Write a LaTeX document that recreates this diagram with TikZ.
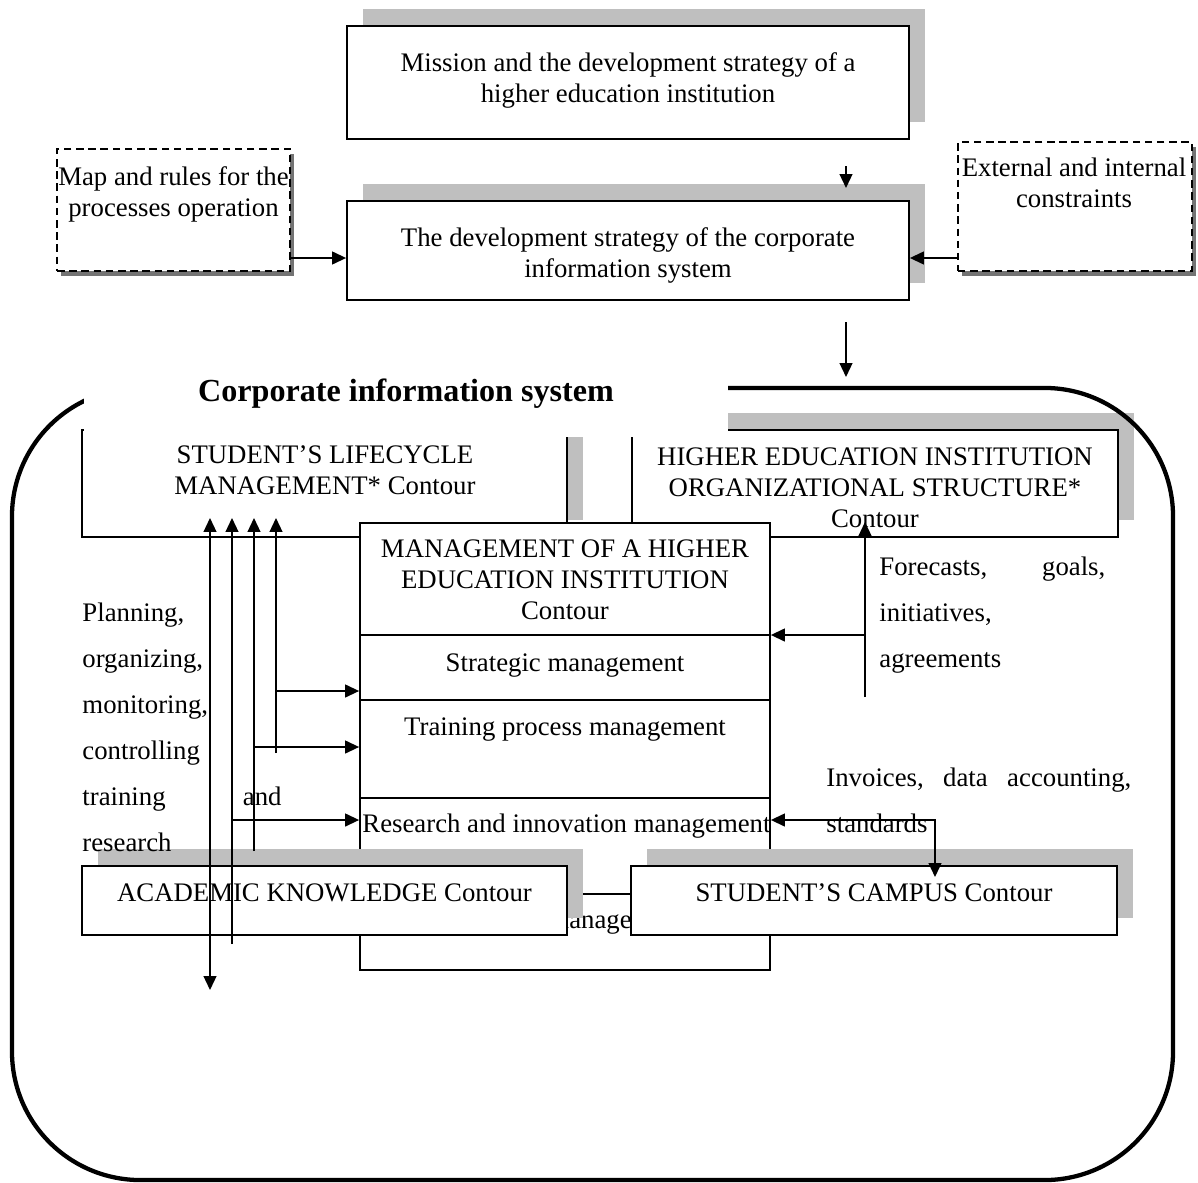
\documentclass[tikz,border=0pt]{standalone}
\usepackage{fontspec}
\setmainfont{Liberation Serif}
\usetikzlibrary{arrows.meta,positioning,shadows}

\begin{document}
\begin{tikzpicture}[
  x=0.467pt,y=-0.467pt,
  every node/.style={font=\fontsize{12.5}{14.5}\selectfont},
  box/.style={draw,line width=0.8pt,fill=white,inner sep=0pt},
  shbox/.style={box,general shadow={fill=black!25,shadow xshift=7.5pt,shadow yshift=8pt}},
  dbox/.style={draw,line width=0.8pt,dash pattern=on 3.5pt off 2.2pt,fill=white,inner sep=0pt,
    general shadow={fill=black!55,shadow xshift=2pt,shadow yshift=-2.2pt}},
  txt/.style={align=center,inner sep=0pt},
  para/.style={align=left,inner sep=0pt,anchor=north west,font=\fontsize{12.5}{21.5}\selectfont},
  arr/.style={-{Triangle[length=6.5pt,width=6pt]},line width=0.7pt},
  darr/.style={{Triangle[length=6.5pt,width=6pt]}-{Triangle[length=6.5pt,width=6pt]},line width=0.7pt},
  ln/.style={line width=0.7pt}
]
\useasboundingbox (0,0) rectangle (1198,1183);

% strategy level
\node[shbox,minimum width=262.5pt,minimum height=52.8pt] (mission) at (628,82.5) {};
\node[txt] (missiontxt) at (628,80) {Mission and the development strategy of a\\higher education institution};
\node[shbox,minimum width=262.5pt,minimum height=46.2pt] (strat) at (628,250.5) {};
\node[txt] (strattxt) at (628,255) {The development strategy of the corporate\\information system};

% side inputs (dashed)
\node[dbox,minimum width=108.8pt,minimum height=57pt] (mapbox) at (173.5,210) {};
\node[txt] (maptxt) at (173.5,194.5) {Map and rules for the\\processes operation};
\node[dbox,minimum width=109.3pt,minimum height=60.2pt] (consbox) at (1075,206.5) {};
\node[txt] (constxt) at (1074,183) {External and internal\\constraints};

% upper contours
\node[shbox,minimum width=226.5pt,minimum height=50pt] (life) at (324.5,483.5) {};
\node[txt] (lifetxt) at (325,470.5) {STUDENT’S LIFECYCLE\\MANAGEMENT* Contour};
\node[shbox,minimum width=227pt,minimum height=50pt] (heis) at (875,483.5) {};
\node[txt] (heistxt) at (875,487.5) {HIGHER EDUCATION INSTITUTION\\ORGANIZATIONAL STRUCTURE*\\Contour};

% corporate information system frame
\node[draw,line width=2pt,rounded corners=60pt,minimum width=542.2pt,minimum height=369.9pt] (cis) at (592.5,784) {};
\node[fill=white,inner sep=0pt,minimum width=300.7pt,minimum height=40.6pt,
  font=\fontsize{15}{18}\selectfont\bfseries] (title) at (406,394) {Corporate information system};

% management contour
\node[box,minimum width=191.5pt,minimum height=208.7pt] (mgmt) at (565,746.5) {};
\foreach \dy in {113,178,276,372}
  \draw[ln] (mgmt.north west) ++(0,\dy) -- ++(410,0);
\node[txt] (mghead) at (565,580) {MANAGEMENT OF A HIGHER\\EDUCATION INSTITUTION\\Contour};
\node[txt] (strm) at (565,666) {Strategic management};
\node[txt] (trm) at (565,730) {Training process management};
\node[txt,anchor=west] (resm) at (362,826) {Research and innovation management};
\node[txt,anchor=west] (lastm) at (548,924) {management};

% lower contours
\node[shbox,minimum width=226.5pt,minimum height=32.2pt] (acad) at (324.5,900.5) {};
\node[txt] (acadtxt) at (324.5,893) {ACADEMIC KNOWLEDGE Contour};
\node[shbox,minimum width=227pt,minimum height=32.2pt] (campus) at (874,900.5) {};
\node[txt] (camptxt) at (874,893) {STUDENT’S CAMPUS Contour};

% helper points
\coordinate (k0) at (0,258);
\coordinate (k1) at (0,691);
\coordinate (k2) at (0,747);
\coordinate (k3) at (0,820);
\coordinate (k4) at (0,635);
\coordinate (lifein) at (0,518);
\coordinate (hein) at (0,522);
\coordinate (campin) at (0,877);
\coordinate (m1) at (846,166);
\coordinate (m2) at (846,188);
\coordinate (m3) at (846,322);
\coordinate (m4) at (846,377);
\coordinate (b1) at (210,990);
\coordinate (b2) at (232,944);
\coordinate (b3) at (254,851);
\coordinate (b4) at (276,753);
\coordinate (f1) at (865,697);
\coordinate (g1) at (935,820);

% arrows, top part
\draw[arr] (mapbox.east |- k0) -- (strat.west |- k0);
\draw[arr] (consbox.west |- k0) -- (strat.east |- k0);
\draw[arr] (m1) -- (m2);
\draw[arr] (m3) -- (m4);

% arrows, left bundle
\draw[darr] (b1) -- (b1 |- lifein);
\foreach \c in {b2,b3,b4}
  \draw[arr] (\c) -- (\c |- lifein);
\draw[arr] (b4 |- k1) -- (mgmt.west |- k1);
\draw[arr] (b3 |- k2) -- (mgmt.west |- k2);
\draw[arr] (b2 |- k3) -- (mgmt.west |- k3);

% arrows, right side
\draw[arr] (f1) -- (f1 |- hein);
\draw[arr] (f1 |- k4) -- (mgmt.east |- k4);
\draw[darr] (mgmt.east |- k3) -| (g1 |- campin);

% flow labels
\node[para,text width=93pt] (plan) at (82,602) {Planning,\\organizing,\\monitoring,\\controlling\\training\hfill and\\research};
\node[para,text width=105.5pt] (fcast) at (879,556) {Forecasts,\hfill goals,\\initiatives,\\agreements};
\node[para,text width=142.4pt] (inv) at (826,767) {Invoices,\hfill data\hfill accounting,\\standards};
\end{tikzpicture}
\end{document}
